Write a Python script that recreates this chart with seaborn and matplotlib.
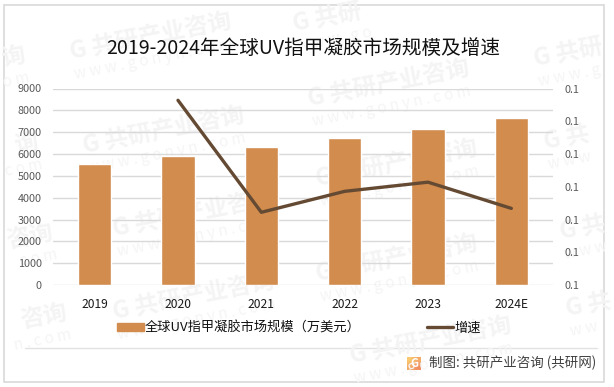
import numpy as np
import pandas as pd
import seaborn as sns
import matplotlib.pyplot as plt
from matplotlib.colors import LinearSegmentedColormap
from matplotlib.lines import Line2D
from matplotlib.patches import Patch, Rectangle

years = ['2019', '2020', '2021', '2022', '2023', '2024E']
market_size = [5540, 5910, 6320, 6730, 7145, 7650]
growth = [0.0882, 0.0711, 0.0743, 0.0757, 0.0717]
bar_name = '全球UV指甲凝胶市场规模（万美元）'
line_name = '增速'

sns.set_theme(style='white')
plt.rcParams['font.family'] = ['Noto Sans CJK SC', 'DejaVu Sans']

W, H = 614, 387
fig = plt.figure(figsize=(W / 100, H / 100), dpi=100)
ax = fig.add_axes([53 / W, 1 - 285 / H, 500 / W, 196.5 / H])
ax.patch.set_alpha(0)

bg = fig.add_axes([0, 0, 1, 1], zorder=-1)


def watermark(x, y, name, url, ha='left'):
    # anchor is the start of the text (end of it for the pieces on the left edge)
    bg.text(x, y, name, fontsize=17, fontweight='bold', color='#f4f4f4', rotation=11,
            rotation_mode='anchor', ha=ha, va='center')
    bg.text(x + 4, y + 22, url, fontsize=11, color='#f5f5f5', rotation=11,
            rotation_mode='anchor', ha=ha, va='center')


# whole watermarks
for x, y in [(70, 53), (83, 147), (113, 230), (113, 313), (308, 100), (316, 180), (316, 275), (350, 357)]:
    watermark(x, y, 'G 共研产业咨询', 'w w w . g o n y n . c o m')
# pieces that run off the edges of the picture
watermark(293, 25, 'G 共研', 'w w w . g o')
watermark(534, 60, 'G 共研', 'w w w . g')
watermark(544, 143, 'G 共', 'w w w')
watermark(560, 233, 'G 共', 'w w w')
watermark(566, 310, 'G 共', 'w w')
watermark(25, 55, '询', 'o m', ha='right')
watermark(38, 142, '询', 'c o m', ha='right')
watermark(53, 232, '咨询', 'c o m', ha='right')
watermark(67, 312, '咨询', 'n . c o m', ha='right')

logo = LinearSegmentedColormap.from_list('logo', ['#f9c86f', '#f08f62'])
bg.imshow([[0.0, 0.5], [0.5, 1.0]], cmap=logo, extent=(407, 421, 370, 357),
          interpolation='bilinear', aspect='auto')
bg.text(414, 363.5, 'G', fontsize=8, fontweight='bold', color='white', ha='center', va='center')
bg.add_patch(Rectangle((3.5, 4.5), 600.5, 377.5, fill=False, ec='#d9d9d9', lw=1.2))
bg.plot([25, 597], [348, 348], color='#e2e2e2', lw=1)
bg.set_xlim(0, W)
bg.set_ylim(H, 0)
bg.axis('off')

df = pd.DataFrame({'year': years, 'size': market_size})
sns.barplot(data=df, x='year', y='size', color='#d28c4e', saturation=1, width=0.4, ax=ax)
ax.set_xlim(-0.5, 5.5)
ax.set_ylim(0, 9000)
ax.set_yticks(range(0, 10000, 1000))
ax.set_xlabel('')
ax.set_ylabel('')
ax.grid(axis='y', color='#d9d9d9', lw=1)
ax.set_axisbelow(True)
sns.despine(ax=ax, left=True, bottom=True)
ax.tick_params(axis='y', length=0, labelsize=7.8, labelcolor='#595959', pad=8)
ax.tick_params(axis='x', length=0, labelsize=8.7, labelcolor='#1a1a1a', pad=9)

ax2 = ax.twinx()
sns.lineplot(x=np.arange(1, len(years)), y=growth, color='#654a33', lw=2.4, ax=ax2, legend=False)
ax2.set_ylim(0.06, 0.09)
ax2.set_yticks(np.arange(0.06, 0.0901, 0.005))
ax2.set_yticklabels(['0.1'] * 7)
ax2.set_ylabel('')
ax2.grid(False)
sns.despine(ax=ax2, left=True, bottom=True, right=True)
ax2.tick_params(axis='y', length=0, labelsize=7.8, labelcolor='#595959', pad=8)

fig.text(303 / W, 1 - 48 / H, '2019-2024年全球UV指甲凝胶市场规模及增速', fontsize=14.1,
         color='#111111', ha='center', va='center')

handles = [Patch(color='#d28c4e'), Line2D([0], [0], color='#654a33', lw=2.4)]
fig.legend(handles, [bar_name, line_name], loc='center', bbox_to_anchor=(299 / W, 1 - 328 / H),
           ncol=2, frameon=False, fontsize=9.5, handlelength=2, handleheight=0.6,
           handletextpad=0.1, columnspacing=5.0, labelcolor='#111111')

fig.text(429 / W, 1 - 363 / H, '制图: 共研产业咨询 (共研网)', fontsize=9.7, color='#404040',
         ha='left', va='center')

fig.savefig('out.png', dpi=100)
